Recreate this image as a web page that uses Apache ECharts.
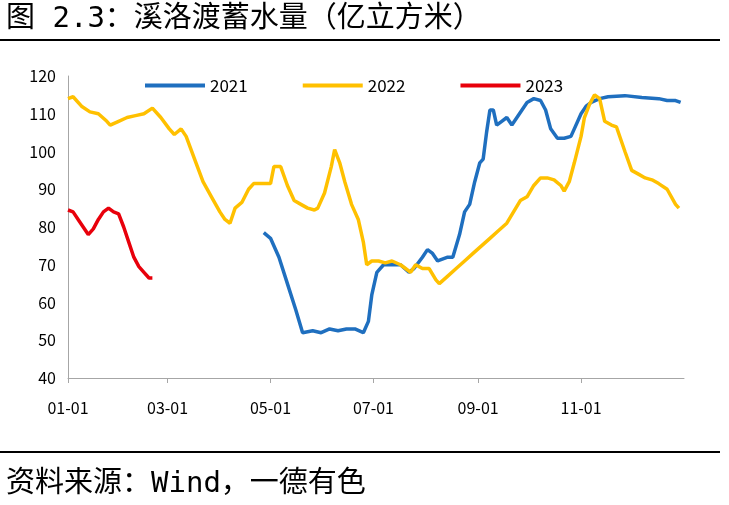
<!DOCTYPE html>
<html>
<head>
<meta charset="utf-8">
<script src="https://cdn.jsdelivr.net/npm/echarts@6/dist/echarts.min.js"></script>
<style>html,body{margin:0;padding:0;background:#fff}#c{width:729px;height:505px}</style>
</head>
<body>
<div id="c"></div>
<script>
// day of year -> storage (亿立方米)
let tickDays = [0, 59, 120, 181, 243, 304];
let tickLabels = ['01-01', '03-01', '05-01', '07-01', '09-01', '11-01'];

let s2021 = [[116,78.5],[120,77],[125,72],[130,65],[135,58],[139,52],[145,52.5],[150,52],[155,53],[160,52.5],[165,53],[170,53],[175,52],[178,55],[180,62],[183,68],[187,70],[192,70],[197,70],[202,68],[205,69],[210,72],[213,74],[216,73],[219,71],[225,72],[228,72],[232,78],[235,84],[238,86],[241,92],[244,97],[246,98],[248,105],[250,111],[252,111],[254,107],[257,108],[260,109],[263,107],[266,109],[269,111],[272,113],[276,114],[280,113.5],[283,111],[286,106],[290,103.5],[294,103.5],[298,104],[300,106],[304,110],[307,112],[310,113],[315,114],[320,114.5],[330,114.8],[340,114.3],[350,114],[355,113.5],[360,113.5],[363,113]];

let s2022 = [[0,114],[3,114.5],[8,112],[13,110.5],[18,110],[23,108],[25,107],[30,108],[35,109],[40,109.5],[45,110],[50,111.5],[55,109],[60,106],[63,104.5],[67,106],[70,104],[75,98],[80,92],[85,88],[90,84],[93,82],[96,81],[99,85],[103,86.5],[107,90],[110,91.5],[115,91.5],[120,91.5],[122,96],[126,96],[130,91],[134,87],[138,86],[142,85],[146,84.5],[148,85],[152,89],[156,96],[158,100.5],[161,97],[164,92],[168,86],[172,82],[175,76],[177,70],[180,71],[184,71],[188,70.5],[192,71],[197,70],[200,69],[203,68],[206,70],[210,69],[214,69],[218,66],[220,65],[225,67],[230,69],[235,71],[240,73],[245,75],[250,77],[255,79],[260,81],[264,84],[268,87],[272,88],[276,91],[280,93],[284,93],[288,92.5],[292,91],[294,89.5],[297,92],[300,97],[304,104],[306,109],[309,112.5],[312,115],[315,114],[318,108],[322,107],[325,106.5],[330,100],[334,95],[338,94],[342,93],[346,92.5],[350,91.5],[355,90],[360,86],[362,85]];

let s2023 = [[0,84.5],[3,84],[6,82],[9,80],[12,78],[15,79.5],[18,82],[21,84],[24,85],[27,84],[30,83.5],[33,80],[36,76],[39,72],[42,69.5],[45,68],[48,66.5],[50,66.5]];

let font = '"Noto Sans CJK SC", sans-serif';
let monoFont = '"DejaVu Sans Mono", "Noto Sans CJK SC", monospace';

function line(name, data, color) {
  return {
    name: name,
    type: 'line',
    data: data,
    showSymbol: false,
    symbol: 'none',
    lineStyle: { color: color, width: 3.5 },
    itemStyle: { color: color }
  };
}

let chart = echarts.init(document.getElementById('c'));
chart.setOption({
  animation: false,
  grid: { left: 68, right: 45, top: 76, bottom: 127 },
  legend: {
    top: 72, left: 140, itemGap: 55, itemWidth: 60, itemHeight: 4,
    icon: 'rect',
    textStyle: { fontFamily: font, fontSize: 17, color: '#000' },
    data: ['2021', '2022', '2023']
  },
  xAxis: {
    type: 'value', min: 0, max: 365,
    splitLine: { show: false },
    axisLine: { lineStyle: { color: '#a6a6a6' } },
    axisTick: { show: true, customValues: tickDays, lineStyle: { color: '#a6a6a6' } },
    axisLabel: {
      customValues: tickDays, margin: 22,
      fontFamily: font, fontSize: 16, color: '#000',
      formatter: function(v) { return tickLabels[tickDays.indexOf(v)]; }
    }
  },
  yAxis: {
    type: 'value', min: 40, max: 120, interval: 10,
    splitLine: { show: false },
    axisLine: { show: true, lineStyle: { color: '#a6a6a6' } },
    axisTick: { show: false },
    axisLabel: { fontFamily: font, fontSize: 16, color: '#000', margin: 12 }
  },
  graphic: [
    { type: 'text', left: 6, top: 5, style: { text: '图 2.3：溪洛渡蓄水量（亿立方米）', font: '29px ' + monoFont, fill: '#000' } },
    { type: 'rect', shape: { x: 0, y: 39, width: 720, height: 2 }, style: { fill: '#000' } },
    { type: 'rect', shape: { x: 0, y: 451, width: 720, height: 2 }, style: { fill: '#000' } },
    { type: 'text', left: 6, top: 470, style: { text: '资料来源：Wind，一德有色', font: '29px ' + monoFont, fill: '#000' } }
  ],
  series: [
    line('2021', s2021, '#1f6fbf'),
    line('2022', s2022, '#ffc000'),
    line('2023', s2023, '#e8000b')
  ]
});
</script>
</body>
</html>
